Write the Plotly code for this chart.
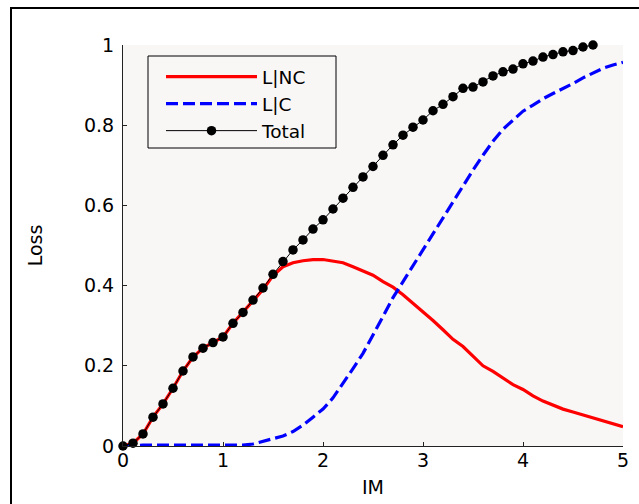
import plotly.graph_objects as go

im = [round(0.1 * i, 1) for i in range(51)]
im_total = [round(0.1 * i, 1) for i in range(48)]

loss_nc = [0.0, 0.007, 0.03, 0.072, 0.105, 0.144, 0.187, 0.222, 0.244, 0.258,
           0.272, 0.306, 0.333, 0.362, 0.39, 0.425, 0.447, 0.457, 0.462, 0.465,
           0.465, 0.462, 0.457, 0.447, 0.437, 0.426, 0.41, 0.396, 0.377, 0.356,
           0.335, 0.313, 0.29, 0.266, 0.248, 0.224, 0.2, 0.186, 0.17, 0.153,
           0.141, 0.125, 0.112, 0.102, 0.092, 0.085, 0.078, 0.07, 0.062, 0.055,
           0.048]

loss_c = [0.0, 0.002, 0.002, 0.002, 0.002, 0.002, 0.002, 0.002, 0.002, 0.002,
          0.002, 0.002, 0.002, 0.005, 0.011, 0.018, 0.025, 0.036, 0.052, 0.072,
          0.092, 0.12, 0.155, 0.193, 0.231, 0.275, 0.323, 0.37, 0.41, 0.45,
          0.49, 0.53, 0.57, 0.61, 0.65, 0.688, 0.725, 0.76, 0.79, 0.813,
          0.835, 0.85, 0.866, 0.879, 0.891, 0.904, 0.918, 0.93, 0.942, 0.95,
          0.957]

loss_total = [0.0, 0.007, 0.03, 0.072, 0.105, 0.144, 0.187, 0.222, 0.244, 0.258,
              0.272, 0.306, 0.333, 0.364, 0.394, 0.428, 0.46, 0.489, 0.514, 0.541,
              0.564, 0.591, 0.618, 0.645, 0.671, 0.697, 0.725, 0.751, 0.775, 0.795,
              0.813, 0.836, 0.852, 0.871, 0.892, 0.895, 0.908, 0.923, 0.933, 0.94,
              0.953, 0.96, 0.97, 0.976, 0.983, 0.986, 0.995, 1.0]

x_ticks = [0, 1, 2, 3, 4, 5]
y_ticks = [0, 0.2, 0.4, 0.6, 0.8, 1]
y_tick_text = ["0", "0.2", "0.4", "0.6", "0.8", "1"]

FONT = "DejaVu Sans"
BG = "#f9f6f6"

fig = go.Figure()
fig.add_trace(go.Scatter(x=im, y=loss_nc, mode="lines", name="L|NC",
                         legendgroup="a",
                         line=dict(color="#ff0000", width=3.2)))
fig.add_trace(go.Scatter(x=im, y=loss_c, mode="lines", name="L|C",
                         legendgroup="b",
                         line=dict(color="#0000ff", width=3.2, dash="12px,5px")))
fig.add_trace(go.Scatter(x=im_total, y=loss_total, mode="lines+markers", name="Total",
                         legendgroup="c", cliponaxis=False,
                         line=dict(color="#000000", width=1),
                         marker=dict(color="#000000", size=9.5, symbol="circle")))

fig.update_layout(
    width=639, height=504,
    margin=dict(l=123, r=16, t=45, b=58, autoexpand=False),
    paper_bgcolor="white",
    plot_bgcolor=BG,
    font=dict(family=FONT, size=19, color="black"),
    showlegend=True,
    legend=dict(
        x=(161 - 123) / 500, y=(446 - 58) / 401, xanchor="left", yanchor="top",
        bgcolor="rgba(0,0,0,0)", borderwidth=0,
        font=dict(family=FONT, size=18.5, color="black"),
        itemwidth=91, traceorder="grouped", tracegroupgap=0,
    ),
    xaxis=dict(
        range=[0, 5], tickvals=x_ticks, ticks="inside", ticklen=4,
        tickcolor="#222", showline=True, linecolor="#222", linewidth=1,
        showgrid=False, zeroline=False, mirror=False, automargin=False,
        ticklabelstandoff=-3,
        title=dict(text="IM", font=dict(size=19), standoff=10),
        tickfont=dict(size=19),
    ),
    yaxis=dict(
        range=[0, 1], tickvals=y_ticks, ticktext=y_tick_text, ticks="inside",
        ticklen=4, tickcolor="#222", showline=True, linecolor="#222", linewidth=1,
        showgrid=False, zeroline=False, mirror=False, automargin=False,
        ticklabelstandoff=4,
        title=dict(text="Loss", font=dict(size=19), standoff=36),
        tickfont=dict(size=19),
    ),
    shapes=[
        dict(type="rect", xref="paper", yref="paper",
             x0=(11 - 123) / 500, x1=(660 - 123) / 500,
             y0=(446 - 520) / 401, y1=(446 - 8) / 401,
             line=dict(color="black", width=2), fillcolor="rgba(0,0,0,0)",
             layer="below"),
        dict(type="rect", xref="paper", yref="paper",
             x0=(148 - 123) / 500, x1=(336 - 123) / 500,
             y0=(446 - 148) / 401, y1=(446 - 56) / 401,
             line=dict(color="black", width=1), fillcolor=BG,
             layer="above"),
    ],
)

fig.write_html("out.html")
